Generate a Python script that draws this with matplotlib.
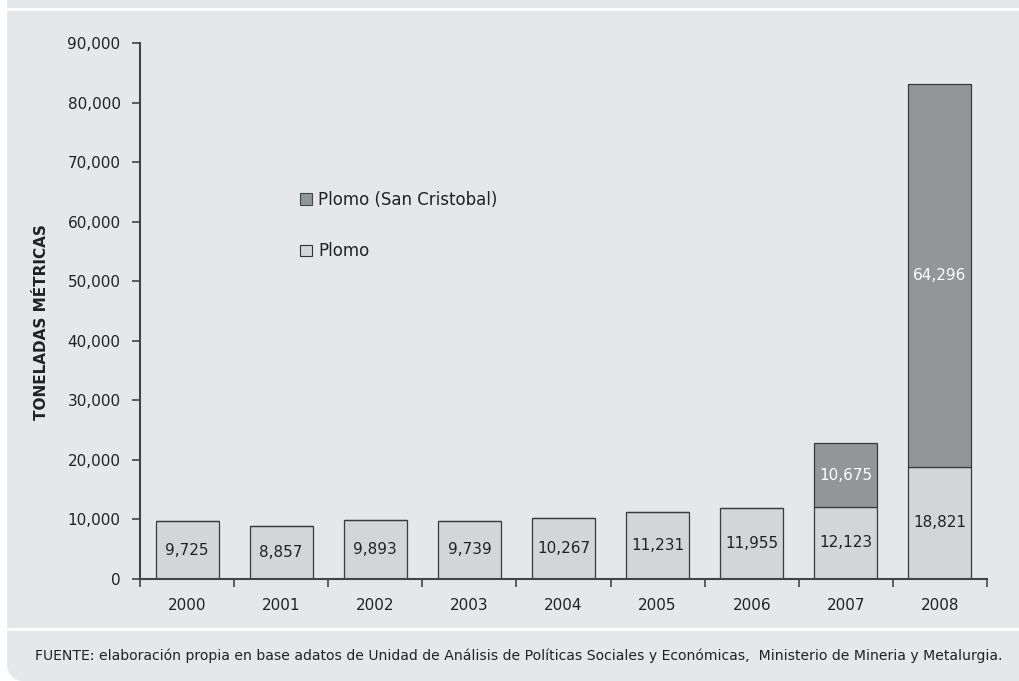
import matplotlib
matplotlib.use("Agg")
import matplotlib.pyplot as plt
from matplotlib.patches import Rectangle, Polygon, Patch
import numpy as np

years = ["2000", "2001", "2002", "2003", "2004", "2005", "2006", "2007", "2008"]
plomo = [9725, 8857, 9893, 9739, 10267, 11231, 11955, 12123, 18821]
plomo_sc = [0, 0, 0, 0, 0, 0, 0, 10675, 64296]
yticks = [0, 10000, 20000, 30000, 40000, 50000, 60000, 70000, 80000, 90000]

W, H = 1020, 681
fig = plt.figure(figsize=(W / 100, H / 100), dpi=100)
fig.patch.set_facecolor("white")
BG = "#e6e7e8"

def rect_px(x0, y0, x1, y1):
    fig.add_artist(Rectangle((x0 / W, 1 - y1 / H), (x1 - x0) / W, (y1 - y0) / H,
                             transform=fig.transFigure, facecolor=BG, edgecolor="none", zorder=-10))

# background panels
rect_px(7, 0, W, 8)
rect_px(7, 11, W, 628)
# bottom panel with rounded bottom-left corner
r = 16
th = np.linspace(np.pi, 1.5 * np.pi, 20)
arc = [(7 + r + r * np.cos(t), H - r - r * np.sin(t)) for t in th]
pts = [(7, 631)] + [(a, b) for a, b in arc] + [(W, H), (W, 631)]
pts = [(a / W, 1 - b / H) for a, b in pts]
fig.add_artist(Polygon(pts, closed=True, transform=fig.transFigure, facecolor=BG, edgecolor="none", zorder=-10))

ax = fig.add_axes([140 / W, 1 - 579 / H, (987 - 140) / W, (579 - 43) / H])
ax.set_facecolor("none")

xs = np.arange(len(years))
bw = 0.67
light = "#d4d5d7"
dark = "#939598"
edge = "#3a3a3a"
ax.bar(xs, plomo, width=bw, color=light, edgecolor=edge, linewidth=0.9, label="Plomo", zorder=2)
ax.bar(xs, plomo_sc, width=bw, bottom=plomo, color=dark, edgecolor=edge, linewidth=0.9,
       label="Plomo (San Cristobal)", zorder=2)

fs = 11
for i in range(len(years)):
    ax.text(xs[i], plomo[i] / 2, f"{plomo[i]:,}", ha="center", va="center", fontsize=fs, color="#222222", zorder=3)
    if plomo_sc[i] > 0:
        ax.text(xs[i], plomo[i] + plomo_sc[i] / 2, f"{plomo_sc[i]:,}", ha="center", va="center",
                fontsize=fs, color="white", zorder=3)

ax.set_xlim(-0.5, len(years) - 0.5)
ax.set_ylim(0, 90000)
ax.set_yticks(yticks)
ax.set_yticklabels([f"{v:,}" for v in yticks], fontsize=fs, color="#222222")
ax.set_xticks(xs)
ax.set_xticklabels(years, fontsize=fs, color="#222222")
ax.tick_params(axis="x", length=0, pad=14)
ax.tick_params(axis="y", length=6, width=1.2, color="#444444", pad=8)
ax.set_xticks(np.arange(-0.5, len(years), 1.0), minor=True)
ax.tick_params(axis="x", which="minor", length=6, width=1.2, color="#444444", direction="out")
for s in ["top", "right"]:
    ax.spines[s].set_visible(False)
for s in ["left", "bottom"]:
    ax.spines[s].set_color("#444444")
    ax.spines[s].set_linewidth(1.5)

fig.text(42 / W, 1 - 322 / H, "TONELADAS MÉTRICAS", rotation=90, ha="center", va="center",
         fontsize=11, fontweight="bold", color="#222222")

handles = [Patch(facecolor=dark, edgecolor="#2f4f3f", linewidth=0.8),
           Patch(facecolor=light, edgecolor="#333333", linewidth=0.8)]
leg = fig.legend(handles, ["Plomo (San Cristobal)", "Plomo"], loc="upper left",
                 bbox_to_anchor=(285 / W, 1 - 176 / H), frameon=False, fontsize=12,
                 handlelength=0.7, handleheight=0.7, handletextpad=0.4, labelspacing=2.0)
for t in leg.get_texts():
    t.set_color("#222222")

fig.text(35 / W, 1 - 656 / H,
         "FUENTE: elaboración propia en base adatos de Unidad de Análisis de Políticas Sociales y Económicas,  Ministerio de Mineria y Metalurgia.",
         ha="left", va="center", fontsize=10.05, color="#222222")

fig.savefig("out.png", dpi=100, facecolor=fig.get_facecolor())
